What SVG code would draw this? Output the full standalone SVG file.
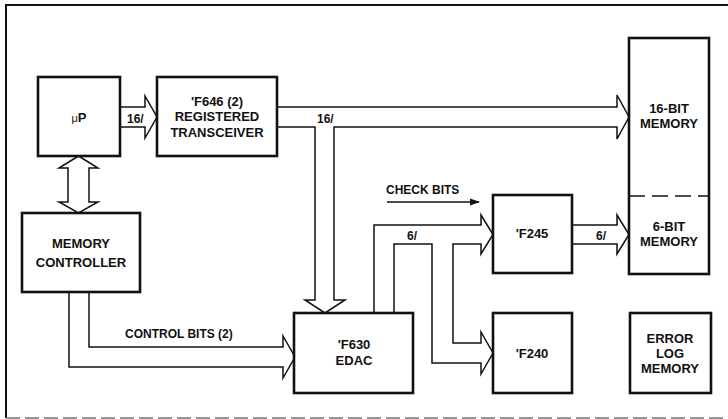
<svg xmlns="http://www.w3.org/2000/svg" width="728" height="419" viewBox="0 0 728 419">
<defs>
<style>
.box{fill:#fff;stroke:#111;stroke-width:2.6}
.wire{fill:none;stroke:#111;stroke-width:1.5;stroke-linejoin:miter}
.t{font-family:"Liberation Sans",Arial,sans-serif;font-weight:bold;font-size:13px;fill:#111;text-anchor:middle}
.l{font-family:"Liberation Sans",Arial,sans-serif;font-weight:bold;font-size:12px;fill:#111}
.frame{fill:none;stroke:#111;stroke-width:2}
</style>
<marker id="ah" markerWidth="10" markerHeight="8" refX="9" refY="4" orient="auto" markerUnits="userSpaceOnUse">
<path d="M0,0.5 L10,4 L0,7.5 Z" fill="#111"/>
</marker>
</defs>
<rect width="728" height="419" fill="#fff"/>
<g id="frame">
<path class="frame" d="M6,418 V5 H728"/>
<path d="M6,418 H728" fill="none" stroke="#777" stroke-width="1.5" stroke-dasharray="14 5"/>
</g>
<g id="connectors">
<path class="wire" d="M120,107 H145 V96 L157,117 L145,138 V127 H120"/>
<path class="wire" d="M277,107 H617 V95 L629,117 L617,139 V127 H334 V300 H345 L325,313 L305,300 H315 V127 H277"/>
<path class="wire" d="M78.5,156 L98,168 H89 V202 H98 L78.5,213 L59,202 H68 V168 H59 Z" fill="#fff"/>
<path class="wire" d="M89,292 V347 H283 V336 L295,357 L283,378 V367 H69 V292"/>
<path class="wire" d="M374,313 V225 H481 V215 L493,234.5 L481,254 V244 H453 V343 H481 V332 L493,353 L481,374 V363 H432 V244 H394 V313"/>
<path class="wire" d="M572,225 H617 V215 L629,234.5 L617,254 V244 H572"/>
<line x1="387" y1="202" x2="479" y2="202" stroke="#111" stroke-width="1.5" marker-end="url(#ah)"/>
<text class="l" x="127" y="123">16/</text>
<text class="l" x="317" y="123">16/</text>
<text class="l" x="407" y="240">6/</text>
<text class="l" x="596" y="240">6/</text>
<text class="l" x="125" y="338" font-size="12.6">CONTROL BITS (2)</text>
<text class="l" x="386" y="194" font-size="13">CHECK BITS</text>
</g>
<g id="up">
<rect class="box" x="38" y="77" width="82" height="79"/>
<text class="t" x="79" y="122"><tspan font-weight="normal" font-size="11">μ</tspan>P</text>
</g>
<g id="f646">
<rect class="box" x="157" y="77" width="120" height="79"/>
<text class="t" x="217" y="105.5">'F646 (2)</text>
<text class="t" x="217" y="121">REGISTERED</text>
<text class="t" x="217" y="136.5">TRANSCEIVER</text>
</g>
<g id="memctrl">
<rect class="box" x="22" y="213" width="118" height="79"/>
<text class="t" x="81" y="248">MEMORY</text>
<text class="t" x="81" y="267">CONTROLLER</text>
</g>
<g id="f630">
<rect class="box" x="294" y="313" width="119" height="80"/>
<text class="t" x="354" y="349">'F630</text>
<text class="t" x="354" y="365">EDAC</text>
</g>
<g id="f245">
<rect class="box" x="493" y="195" width="79" height="78"/>
<text class="t" x="532" y="238">'F245</text>
</g>
<g id="f240">
<rect class="box" x="493" y="313" width="79" height="80"/>
<text class="t" x="532" y="357.5">'F240</text>
</g>
<g id="memory">
<rect class="box" x="629" y="38" width="80" height="236"/>
<line x1="629" y1="196" x2="709" y2="196" stroke="#111" stroke-width="1.5" stroke-dasharray="16 7"/>
<text class="t" x="669" y="113">16-BIT</text>
<text class="t" x="669" y="128">MEMORY</text>
<text class="t" x="669" y="231">6-BIT</text>
<text class="t" x="669" y="246">MEMORY</text>
</g>
<g id="errlog">
<rect class="box" x="630" y="313" width="81" height="80"/>
<text class="t" x="670" y="343">ERROR</text>
<text class="t" x="670" y="358">LOG</text>
<text class="t" x="670" y="373">MEMORY</text>
</g>
</svg>
